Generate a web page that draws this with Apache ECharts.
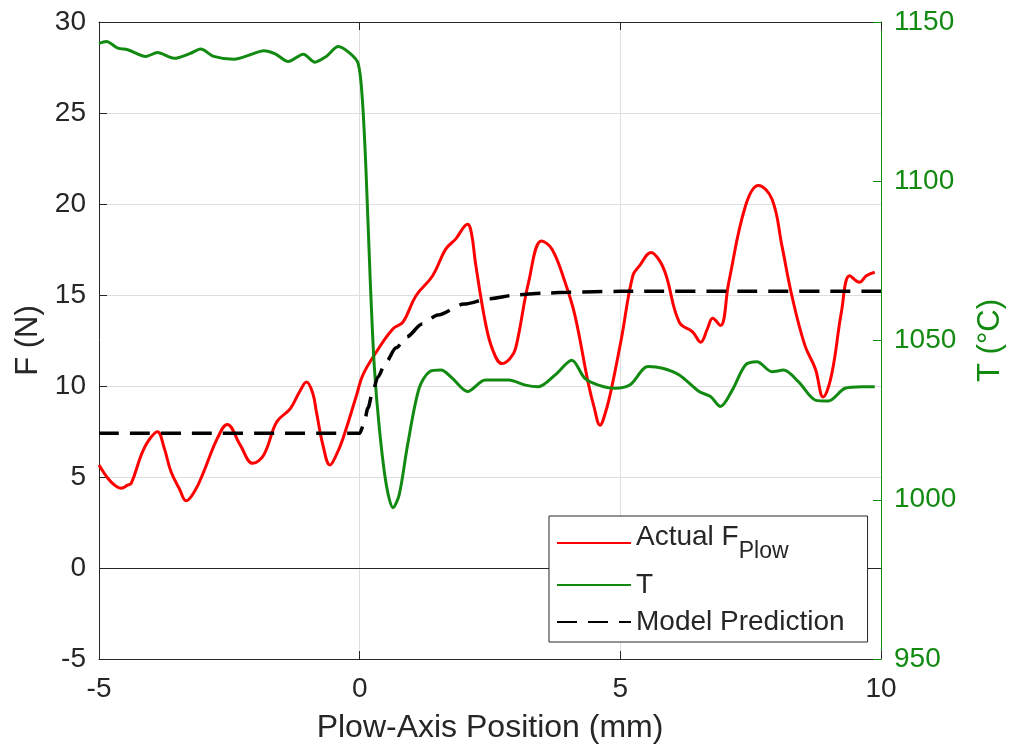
<!DOCTYPE html>
<html>
<head>
<meta charset="utf-8">
<script src="https://cdn.jsdelivr.net/npm/echarts@6/dist/echarts.min.js"></script>
<style>html,body{margin:0;padding:0;background:#fff}#c{width:1014px;height:749px}</style>
</head>
<body>
<div id="c"></div>
<script>
// ---- data ----
const xTicks = [-5, 0, 5, 10];
const fTicks = [-5, 0, 5, 10, 15, 20, 25, 30];
const tTicks = [950, 1000, 1050, 1100, 1150];

const forceX = [-5.00,-4.83,-4.70,-4.57,-4.45,-4.38,-4.19,-4.05,-3.88,-3.75,-3.62,-3.45,-3.33,-3.15,-2.99,-2.73,-2.54,-2.29,-2.05,-1.84,-1.59,-1.33,-1.15,-1.02,-0.90,-0.83,-0.70,-0.57,-0.45,-0.32,-0.06,0.06,0.32,0.64,0.83,1.08,1.40,1.65,1.84,2.07,2.15,2.22,2.41,2.55,2.73,2.88,2.99,3.24,3.49,3.69,3.94,4.13,4.38,4.50,4.61,4.72,4.83,5.02,5.24,5.37,5.59,5.75,5.88,6.13,6.39,6.54,6.67,6.77,6.92,7.08,7.40,7.65,7.91,8.10,8.29,8.54,8.74,8.89,9.05,9.24,9.40,9.59,9.72,9.88];
const forceF = [5.66,4.93,4.55,4.38,4.55,4.66,6.21,7.00,7.49,6.60,5.30,4.30,3.69,4.30,5.30,7.12,7.89,6.75,5.75,6.21,8.03,8.76,9.70,10.22,9.60,8.58,6.70,5.66,6.20,7.12,9.49,10.60,11.87,13.14,13.51,14.96,16.06,17.52,18.07,18.89,18.30,16.79,13.51,12.00,11.23,11.50,12.05,15.70,17.97,17.52,15.70,13.87,10.22,8.80,7.85,8.60,9.86,12.60,16.06,16.61,17.34,16.90,16.06,13.51,12.96,12.41,13.14,13.72,13.32,15.70,19.89,21.02,20.26,17.70,14.96,12.23,10.95,9.40,10.59,14.05,16.06,15.70,16.06,16.25];

const tempX = [-5.00,-4.86,-4.64,-4.45,-4.10,-3.88,-3.56,-3.24,-3.05,-2.80,-2.41,-2.10,-1.84,-1.62,-1.37,-1.08,-0.86,-0.64,-0.41,-0.19,-0.03,0.05,0.12,0.20,0.28,0.38,0.51,0.64,0.76,0.92,1.14,1.34,1.56,1.78,2.07,2.41,2.86,3.18,3.43,3.75,4.07,4.32,4.58,4.89,5.18,5.53,5.81,6.13,6.51,6.73,6.92,7.15,7.40,7.62,7.91,8.13,8.42,8.74,8.99,9.31,9.63,9.88];
const tempT = [1143.3,1143.9,1141.8,1141.3,1139.2,1140.4,1138.6,1140.2,1141.5,1139.2,1138.3,1139.7,1141.0,1140.0,1137.6,1139.9,1137.4,1139.2,1142.3,1140.2,1137.0,1126.0,1104.0,1070.0,1042.0,1022.0,1004.8,997.5,1001.7,1017.3,1035.0,1040.2,1040.7,1038.1,1034.0,1037.6,1037.6,1036.0,1035.5,1039.2,1043.8,1038.1,1036.0,1035.0,1036.0,1041.8,1041.3,1039.2,1034.0,1032.4,1029.3,1034.5,1042.3,1043.3,1040.2,1040.7,1037.0,1031.3,1031.0,1035.0,1035.5,1035.5];

const modelX = [-5.0,0.0,0.08,0.16,0.25,0.35,0.5,0.7,0.9,1.2,1.5,2.0,2.5,3.0,3.5,4.0,5.0,7.5,10.0];
const modelF = [7.4,7.4,7.9,8.8,9.7,10.5,11.3,12.1,12.7,13.4,13.9,14.5,14.8,15.0,15.1,15.15,15.2,15.2,15.2];

const names = ['Actual F_Plow', 'T', 'Model Prediction'];
const xName = 'Plow-Axis Position (mm)';
const fName = 'F (N)';
const tName = 'T (°C)';

// ---- chart ----
const FONT = '"Liberation Sans", Arial, Helvetica, sans-serif';
const BLACK = '#262626';
const RED = '#ff0000';
const GREEN = '#128a12';
const zip = (a, b) => a.map((v, i) => [v, b[i]]);

const chart = echarts.init(document.getElementById('c'), null, {renderer: 'canvas'});
chart.setOption({
  animation: false,
  backgroundColor: '#fff',
  textStyle: {fontFamily: FONT},
  grid: {left: 99, right: 129, top: 22, bottom: 87, containLabel: false},
  legend: {
    orient: 'vertical',
    left: 549, top: 516,
    padding: [7, 23, 5, 7],
    itemGap: 7,
    itemWidth: 74, itemHeight: 14,
    backgroundColor: '#fff',
    borderColor: BLACK, borderWidth: 1,
    data: names,
    selectedMode: false,
    itemStyle: {opacity: 0},
    formatter: function (n) {
      if (n === names[0]) return '{a|Actual F}{s|Plow}{e| }';
      return n;
    },
    textStyle: {
      fontFamily: FONT, fontSize: 28, color: BLACK, lineHeight: 30,
      rich: {
        a: {fontFamily: FONT, fontSize: 28, color: BLACK, lineHeight: 30, verticalAlign: 'top'},
        s: {fontFamily: FONT, fontSize: 23, color: BLACK, lineHeight: 23, verticalAlign: 'bottom'},
        e: {fontFamily: FONT, fontSize: 1, color: BLACK, lineHeight: 40, verticalAlign: 'bottom'}
      }
    }
  },
  xAxis: [{
    type: 'value', position: 'bottom', min: -5, max: 10, interval: 5,
    name: xName, nameLocation: 'middle', nameGap: 53,
    nameTextStyle: {fontFamily: FONT, fontSize: 32, color: BLACK},
    axisLine: {show: true, onZero: false, lineStyle: {color: BLACK, width: 1}},
    axisTick: {show: true, inside: true, length: 8, lineStyle: {color: BLACK}},
    axisLabel: {fontFamily: FONT, fontSize: 28, color: BLACK, margin: 16},
    splitLine: {show: true, lineStyle: {color: '#dedede', width: 1}}
  }, {
    type: 'value', position: 'top', min: -5, max: 10, interval: 5,
    axisLine: {show: true, onZero: false, lineStyle: {color: BLACK, width: 1}},
    axisTick: {show: true, inside: true, length: 8, lineStyle: {color: BLACK}},
    axisLabel: {show: false},
    splitLine: {show: false}
  }],
  yAxis: [{
    type: 'value', position: 'left', min: -5, max: 30, interval: 5,
    name: fName, nameLocation: 'middle', nameGap: 53, nameRotate: 90,
    nameTextStyle: {fontFamily: FONT, fontSize: 31, color: BLACK},
    axisLine: {show: true, onZero: false, lineStyle: {color: BLACK, width: 1}},
    axisTick: {show: true, inside: true, length: 8, lineStyle: {color: BLACK}},
    axisLabel: {fontFamily: FONT, fontSize: 28, color: BLACK, margin: 13},
    splitLine: {show: true, lineStyle: {color: '#dedede', width: 1}}
  }, {
    type: 'value', position: 'right', min: 950, max: 1150, interval: 50,
    name: tName, nameLocation: 'middle', nameGap: 94, nameRotate: 90,
    nameTextStyle: {fontFamily: FONT, fontSize: 31, color: GREEN},
    axisLine: {show: true, onZero: false, lineStyle: {color: GREEN, width: 1}},
    axisTick: {show: true, inside: true, length: 8, lineStyle: {color: GREEN}},
    axisLabel: {fontFamily: FONT, fontSize: 28, color: GREEN, margin: 13, formatter: v => String(v)},
    splitLine: {show: false}
  }],
  series: [{
    name: names[0], type: 'line', xAxisIndex: 0, yAxisIndex: 0,
    data: zip(forceX, forceF), showSymbol: false, symbol: 'none',
    smooth: 0.4,
    lineStyle: {color: RED, width: 3}, itemStyle: {color: RED}, z: 3
  }, {
    name: names[1], type: 'line', xAxisIndex: 0, yAxisIndex: 1,
    data: zip(tempX, tempT), showSymbol: false, symbol: 'none',
    smooth: 0.3,
    lineStyle: {color: GREEN, width: 3}, itemStyle: {color: GREEN}, z: 3
  }, {
    name: names[2], type: 'line', xAxisIndex: 0, yAxisIndex: 0,
    data: zip(modelX, modelF), showSymbol: false, symbol: 'none',
    smooth: 0.3, smoothMonotone: 'x',
    lineStyle: {color: '#000', width: 3.5, type: [20, 11]}, itemStyle: {color: '#000'}, z: 4,
    markLine: {
      silent: true, symbol: 'none', label: {show: false},
      lineStyle: {color: BLACK, width: 1, type: 'solid'},
      data: [{yAxis: 0}], z: 2
    }
  }]
});
</script>
</body>
</html>
